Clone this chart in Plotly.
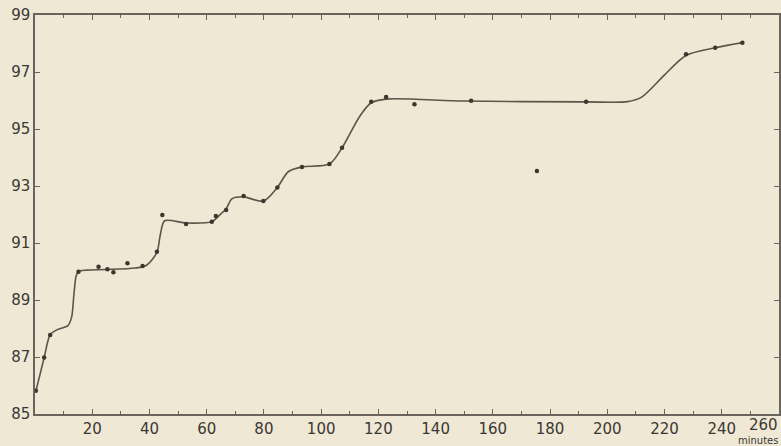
import plotly.graph_objects as go

# Observed points (minutes, value)
obs_min = [0.3, 3.2, 5.3, 15.2, 22.2, 25.3, 27.4, 32.3, 37.6, 42.6, 44.5,
           52.8, 61.8, 63.2, 66.8, 72.9, 79.8, 84.7, 93.3, 102.9, 107.3,
           117.5, 122.7, 132.6, 152.4, 175.4, 192.6, 227.5, 237.7, 247.2]
obs_val = [85.82, 86.98, 87.77, 89.99, 90.17, 90.08, 89.97, 90.29, 90.19, 90.69, 91.98,
           91.67, 91.75, 91.95, 92.16, 92.65, 92.47, 92.95, 93.67, 93.77, 94.34,
           95.96, 96.12, 95.87, 95.99, 93.53, 95.96, 97.62, 97.85, 98.03]

# Smoothed curve drawn through the points
curve_min = [0.3, 3.2, 5.3, 7.6, 11.5, 12.8, 13.6, 14.4, 15.2, 18, 25, 35, 39,
             42.6, 43.8, 45.3, 52.8, 61.8, 64.5, 66.8, 68.8, 72.9, 79.8, 84.7,
             88.5, 93.3, 102.9, 107.3, 113.5, 117.5, 122.7, 150, 192.6, 207,
             212, 220, 227.5, 237.7, 247.2]
curve_val = [85.8, 86.98, 87.78, 87.95, 88.1, 88.4, 89.2, 89.85, 90.0, 90.05, 90.07, 90.12, 90.22,
             90.67, 91.3, 91.78, 91.7, 91.75, 91.98, 92.2, 92.55, 92.62, 92.47, 92.95,
             93.5, 93.67, 93.77, 94.34, 95.45, 95.92, 96.05, 95.98, 95.95, 95.96,
             96.12, 96.9, 97.58, 97.85, 98.03]

x_ticks = [20, 40, 60, 80, 100, 120, 140, 160, 180, 200, 220, 240]
x_ticktext = ["20", "40", "60", "80", "100", "120", "140", "160", "180", "200", "220", "240"]
y_ticks = [85, 87, 89, 91, 93, 95, 97, 99]
y_ticktext = ["85", "87", "89", "91", "93", "95", "97", "99"]

ink = "#6a655c"
bg = "#efe8d5"
text_color = "#3a3833"
font_family = "DejaVu Sans, sans-serif"

fig = go.Figure()
fig.add_trace(go.Scatter(x=curve_min, y=curve_val, mode="lines",
                         line=dict(color="#5c5548", width=1.6, shape="spline", smoothing=0.8),
                         hoverinfo="skip", showlegend=False))
fig.add_trace(go.Scatter(x=obs_min, y=obs_val, mode="markers",
                         marker=dict(color="#3b362f", size=4.5),
                         showlegend=False))

fig.update_layout(
    width=781, height=446,
    margin=dict(l=35, r=2, t=15, b=32),
    paper_bgcolor=bg, plot_bgcolor=bg,
    font=dict(family=font_family, size=15, color=text_color),
    xaxis=dict(range=[0, 260], tickmode="array", tickvals=x_ticks, ticktext=x_ticktext,
               ticks="inside", ticklen=5, tickcolor=ink, mirror="ticks", automargin=False,
               showline=True, linecolor=ink, linewidth=1.5, showgrid=False, zeroline=False,
               minor=dict(ticks="inside", ticklen=3, dtick=10, tickcolor=ink),
               tickfont=dict(size=15, color=text_color)),
    yaxis=dict(range=[85, 99], tickmode="array", tickvals=y_ticks, ticktext=y_ticktext,
               ticks="inside", ticklen=5, tickcolor=ink, mirror="ticks", automargin=False,
               showline=True, linecolor=ink, linewidth=1.5, showgrid=False, zeroline=False,
               tickfont=dict(size=15, color=text_color)),
)
fig.add_annotation(x=260, y=0, xref="x", yref="paper", yanchor="top", xanchor="right",
                   yshift=0, xshift=1, text="260", showarrow=False,
                   font=dict(size=15, color=text_color))
fig.add_annotation(x=1, y=0, xref="paper", yref="paper", yanchor="top", xanchor="right",
                   yshift=-19, xshift=1, text="minutes", showarrow=False,
                   font=dict(size=10, color=text_color))

fig.write_html("out.html", config={"displayModeBar": False},
               post_script="document.body.style.margin='0';document.body.style.overflow='hidden';")
